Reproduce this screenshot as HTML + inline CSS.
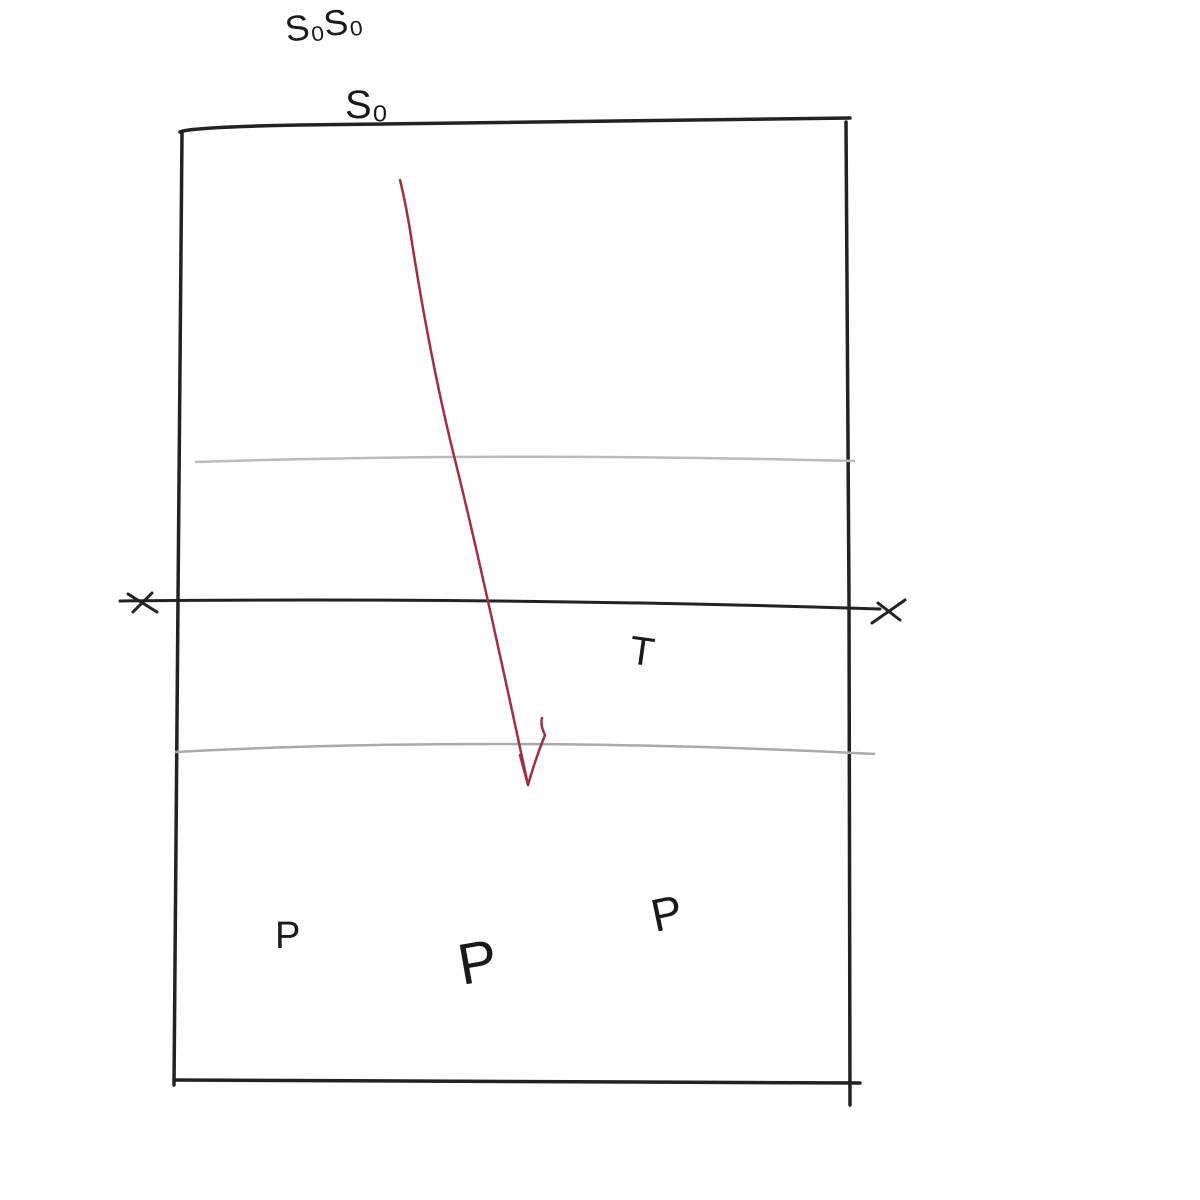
<!DOCTYPE html>
<html>
<head>
<meta charset="utf-8">
<style>
  html,body{margin:0;padding:0;background:#fff;}
  svg{display:block;}
  text{font-family:"Liberation Sans",sans-serif;fill:#1a1a1a;}
</style>
</head>
<body>
<svg width="1200" height="1200" viewBox="0 0 1200 1200">
  <rect width="1200" height="1200" fill="#fff"/>
  <!-- frame -->
  <g stroke="#222" stroke-width="3.5" fill="none" stroke-linecap="round">
    <path d="M180 132 Q190 127 300 125 L850 118"/>
    <path d="M182 133 L178 600 L174 1085"/>
    <path d="M846 122 L849 600 L850 1105"/>
    <path d="M174 1080 L860 1083"/>
  </g>
  <!-- grey lines -->
  <path d="M195 462 Q500 452 855 461" stroke="#bbb" stroke-width="2.5" fill="none"/>
  <path d="M175 752 Q500 735 875 754" stroke="#aaa" stroke-width="2.5" fill="none"/>
  <!-- axis line with X ends -->
  <g stroke="#222" stroke-width="3" fill="none" stroke-linecap="round">
    <path d="M120 601 Q500 597 880 609"/>
    <path d="M128 594 L157 612 M152 593 L133 612"/>
    <path d="M872 623 L905 600 M878 603 L900 620"/>
  </g>
  <!-- red arrow -->
  <g stroke="#a03040" stroke-width="2.5" fill="none" stroke-linecap="round">
    <path d="M400 180 Q405 200 410 230 Q430 360 455 460 Q480 560 528 785"/>
    <path d="M528 785 L520 755 M528 785 Q535 760 545 735 Q540 725 542 718"/>
  </g>
  <!-- labels -->
  <text x="287" y="42" font-size="36" transform="rotate(-8 287 42)">S₀S₀</text>
  <text x="345" y="118" font-size="40">S₀</text>
  <text x="628" y="663" font-size="40" transform="rotate(8 628 663)">T</text>
  <text x="275" y="948" font-size="38">P</text>
  <text x="462" y="985" font-size="58" transform="rotate(-10 462 985)">P</text>
  <text x="655" y="932" font-size="46" transform="rotate(-12 655 932)">P</text>
</svg>
</body>
</html>
